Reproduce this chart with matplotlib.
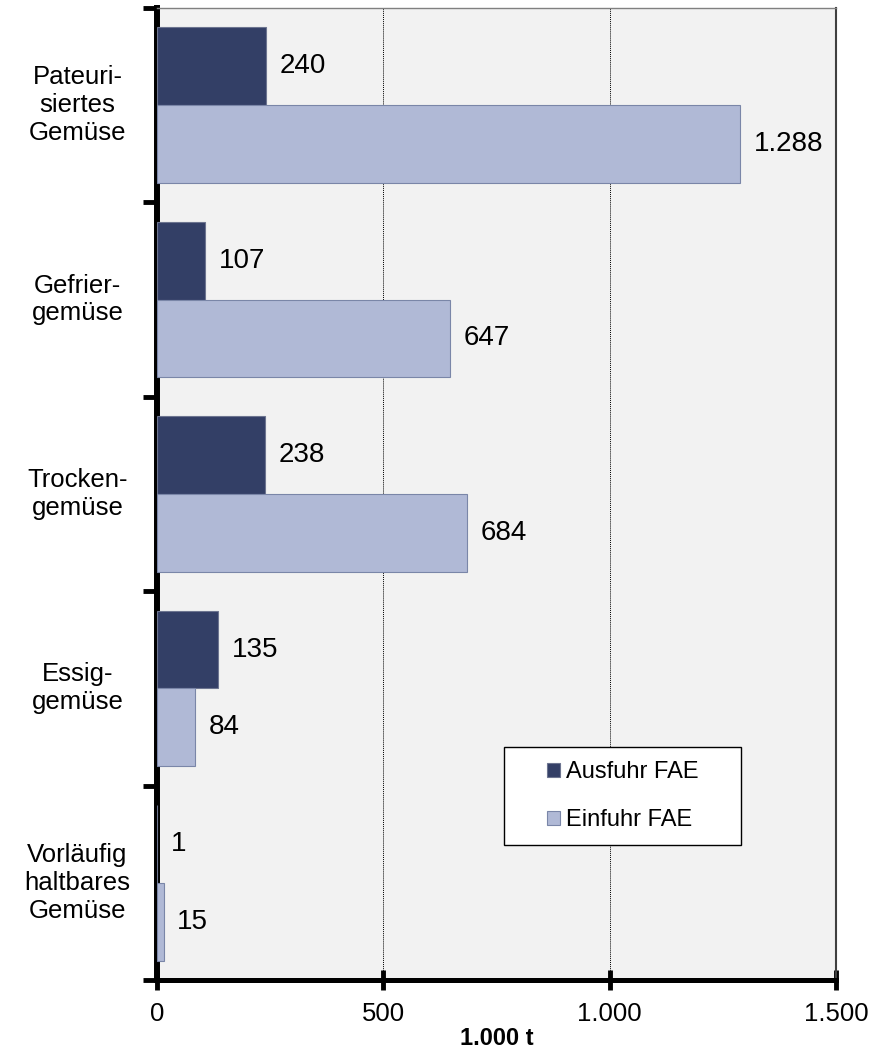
import matplotlib.pyplot as plt
from matplotlib.patches import Rectangle
import numpy as np

plt.rcParams['font.family'] = ['Liberation Sans', 'DejaVu Sans']

# data (1.000 t)
categories = ['Pateuri-\nsiertes\nGemüse', 'Gefrier-\ngemüse', 'Trocken-\ngemüse',
              'Essig-\ngemüse', 'Vorläufig\nhaltbares\nGemüse']
ausfuhr = [240, 107, 238, 135, 1]
einfuhr = [1288, 647, 684, 84, 15]
xticks = [0, 500, 1000, 1500]
xticklabels = ['0', '500', '1.000', '1.500']

def fmt(v):
    return f'{v:,}'.replace(',', '.')

fig = plt.figure(figsize=(8.81, 10.52), dpi=100)
ax = fig.add_axes([157/881, 1 - 980/1052, (836-157)/881, (980-8)/1052])
ax.set_facecolor('#f2f2f2')

y = np.arange(len(categories))
h = 0.4
ax.barh(y - h/2, ausfuhr, height=h, color='#333f66', edgecolor='#6d7590',
        linewidth=0.8, label='Ausfuhr FAE', zorder=3)
ax.barh(y + h/2, einfuhr, height=h, color='#b0b9d6', edgecolor='#7a86a8',
        linewidth=0.8, label='Einfuhr FAE', zorder=3)

for i in range(len(categories)):
    ax.text(ausfuhr[i] + 30, y[i] - h/2, fmt(ausfuhr[i]), va='center', ha='left', fontsize=20)
    ax.text(einfuhr[i] + 30, y[i] + h/2, fmt(einfuhr[i]), va='center', ha='left', fontsize=20)

ax.set_xlim(0, 1500)
ax.set_ylim(len(categories) - 0.5, -0.5)

ax.set_xticks(xticks)
ax.set_xticklabels(xticklabels, fontsize=18.5)
ax.set_yticks(np.arange(len(categories) + 1) - 0.5)
ax.set_yticklabels([])
ax.tick_params(axis='y', direction='out', length=10, width=3.5, color='black')
ax.tick_params(axis='x', direction='inout', length=15, width=3.5, color='black', pad=8)

ax.xaxis.grid(True, color='black', linestyle=(0, (1, 1)), linewidth=0.7, zorder=1)

ax.spines['left'].set_linewidth(4.3)
ax.spines['bottom'].set_linewidth(3.6)
ax.spines['top'].set_color('#808080')
ax.spines['top'].set_linewidth(1)
ax.spines['right'].set_color('#404040')
ax.spines['right'].set_linewidth(1.5)

trans = ax.get_yaxis_transform()
for i, c in enumerate(categories):
    ax.text(-0.117, y[i], c, transform=trans, ha='center', va='center',
            multialignment='center', fontsize=18.5, linespacing=1.2)

ax.set_xlabel('1.000 t', fontsize=17, fontweight='bold', labelpad=1)

# legend box
ax.add_patch(Rectangle((0.511, 0.1389), 0.349, 0.1008, transform=ax.transAxes,
                       facecolor='white', edgecolor='black', linewidth=1, zorder=4))
leg = ax.legend(loc='center', bbox_to_anchor=(0.6856, 0.1893), fontsize=17,
                frameon=False, handlelength=0.55, handleheight=0.55,
                handletextpad=0.25, labelspacing=1.1, borderpad=0, borderaxespad=0)
leg.set_zorder(5)

fig.savefig('out.png', dpi=100)
